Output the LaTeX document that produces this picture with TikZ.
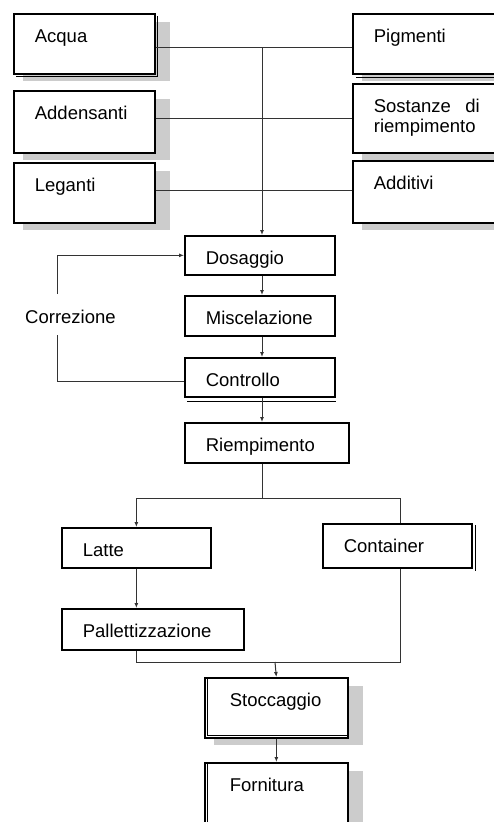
\documentclass[tikz,border=0pt]{standalone}
\usepackage{fontspec}
\setmainfont{Liberation Sans}
\usetikzlibrary{arrows.meta}
\pgfdeclarelayer{bg}
\pgfsetlayers{bg,main}
\begin{document}
\begin{tikzpicture}[x=1pt,y=-1pt,
  box/.style={draw, line width=1.7pt, fill=white, anchor=north west, align=left,
    inner xsep=21pt, inner ysep=0pt, text height=29pt,
    font=\fontsize{18.5}{20}\selectfont},
  lbl/.style={font=\fontsize{18.5}{20}\selectfont, inner sep=0pt},
  conn/.style={line width=1pt, draw=black!80},
  arr/.style={conn, -{Latex[length=5pt,width=4pt]}},
  shadowfill/.style={fill=black!20},
  thin2/.style={line width=0.8pt}]
\useasboundingbox (0,0) rectangle (494,822);
\clip (0,0) rectangle (494,822);

% input boxes
\node[box, text width=99pt, text depth=31pt] (acqua) at (13,13) {Acqua};
\node[box, text width=99pt, text depth=33pt] (adden) at (13,90) {Addensanti};
\node[box, text width=99pt, text depth=31pt] (legan) at (13,162) {Leganti};
\node[box, text width=106pt, text depth=31pt] (pigm) at (352,13) {Pigmenti};
\node[box, text width=106pt, text depth=40pt] (sost) at (352,83) {Sostanze\hfill di\\riempimento};
\node[box, text width=106pt, text depth=33pt] (addit) at (352,160) {Additivi};

% process boxes
\node[box, text width=108pt, text depth=10pt] (dos) at (184,235) {Dosaggio};
\node[box, text width=108pt, text depth=11pt] (misc) at (184,295) {Miscelazione};
\node[box, text width=108pt, text depth=10pt] (contr) at (184,357) {Controllo};
\node[box, text width=122pt, text depth=11pt] (riemp) at (184,422) {Riempimento};
\node[box, text width=107pt, text depth=11pt] (latte) at (61,527) {Latte};
\node[box, text width=107pt, text depth=15pt] (cont) at (322,523) {Container};
\node[box, text width=140pt, text depth=12pt] (pall) at (61,608) {Pallettizzazione};
\node[box, inner xsep=25pt, text width=93pt, text depth=31pt] (stocc) at (204,677) {Stoccaggio};
\node[box, inner xsep=25pt, text width=93pt, text depth=41pt] (forn) at (204,762) {Fornitura};

\node[lbl, anchor=base west] (corr) at (25,323) {Correzione};

% shadows
\begin{pgfonlayer}{bg}
\foreach \n in {acqua,adden,legan,pigm,sost,addit,stocc,forn}{
  \fill[shadowfill] ([shift={(10,9)}]\n.north west) rectangle ([shift={(14,6)}]\n.south east);
}
\end{pgfonlayer}

% double edges
\draw[thin2] ([shift={(2,3)}]acqua.north east) -- ([shift={(2,2)}]acqua.south east) -- ([shift={(3,2)}]acqua.south west);
\draw[thin2] ([shift={(4,3)}]pigm.south west) -- ([shift={(10,3)}]pigm.south east);
\draw[thin2] ([shift={(3,4)}]contr.south west) -- ([shift={(0,4)}]contr.south east);
\draw[thin2] ([shift={(3,2)}]cont.north east) -- ([shift={(3,2)}]cont.south east);
\draw[thin2] ([shift={(3,0)}]stocc.north west) -- ([shift={(3,-3)}]stocc.south west) -- ([shift={(0,-3)}]stocc.south east);
\draw[thin2] ([shift={(3,0)}]forn.north west) -- ([shift={(3,60)}]forn.north west);

% connectors: inputs
\coordinate (j) at (262,47);
\draw[conn] ([yshift=-4pt]acqua.east) -- ([yshift=-4pt]acqua.east -| pigm.west);
\draw[conn] ([yshift=3pt]adden.east) -- ([yshift=3pt]adden.east -| sost.west);
\draw[conn] ([yshift=2pt]legan.east) -- ([yshift=2pt]legan.east -| addit.west);
\draw[arr] (j) -- (j |- dos.north);
\draw[arr] (j |- dos.south) -- (j |- misc.north);
\draw[arr] (j |- misc.south) -- (j |- contr.north);
\draw[arr] (j |- contr.south) -- (j |- riemp.north);

% correction loop
\coordinate (cx) at (57,0);
\draw[conn] ([yshift=-4pt]contr.west) -| (cx |- 0,335);
\draw[arr] (cx |- 0,294) |- (dos.west);

% split
\coordinate (sp) at (262,498);
\coordinate (rx) at (400,0);
\draw[conn] (j |- riemp.south) -- (sp);
\draw[arr] (sp) -| (latte.north);
\draw[conn] (sp) -| (rx |- cont.north);
\draw[arr] (latte.south) -- (latte.south |- pall.north);

% merge
\coordinate (mg) at (275,662);
\draw[conn] (latte.south |- pall.south) |- (mg);
\draw[conn] (rx |- cont.south) |- (mg);
\draw[arr] (mg) -- (stocc.north);
\draw[arr] (stocc.south) -- (forn.north);
\end{tikzpicture}
\end{document}
